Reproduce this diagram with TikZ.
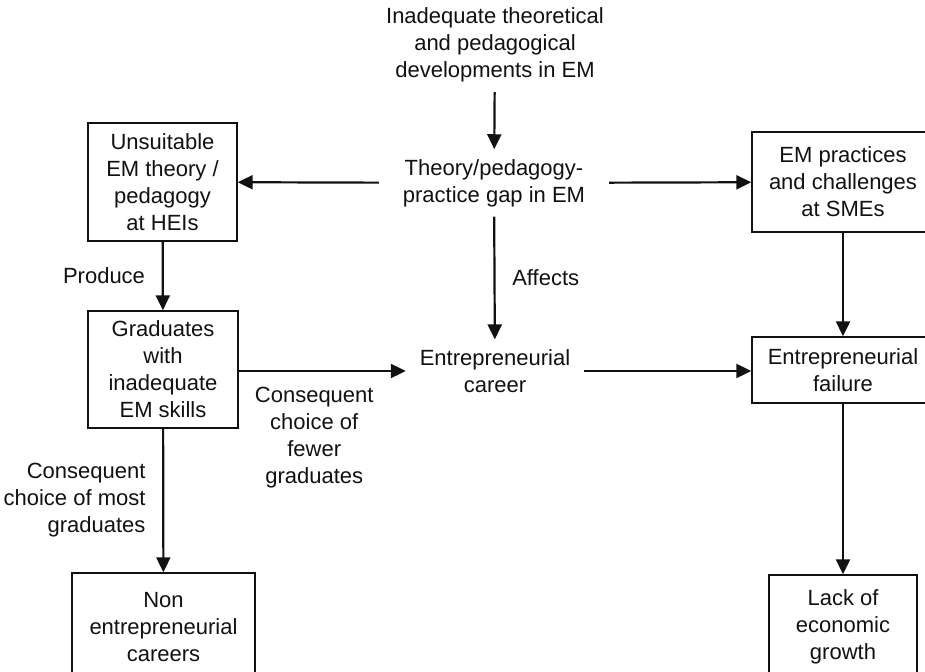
\documentclass[tikz,border=0pt]{standalone}
\usepackage{fontspec}
\setmainfont{Liberation Sans}
\usepackage{tikz}
\usetikzlibrary{arrows.meta, positioning, calc}
\definecolor{InkBlack}{HTML}{111111}

\begin{document}
\begin{tikzpicture}[x=0.5pt, y=-0.5pt,
                    every node/.style={font=\fontsize{11}{13.5}\selectfont, color=InkBlack, align=center},
                    box/.style={draw, line width=0.7pt, inner sep=0pt},
                    plain/.style={inner sep=0pt, outer sep=5pt},
                    arr/.style={-{Triangle[length=7.5pt, width=7pt]}, line width=1.1pt, color=InkBlack}]
                    \path[use as bounding box] (0,0) rectangle (925,672);
                    \clip (0,0) rectangle (925,672);
                    
                    % middle column
                    \node[plain] (dev) at (495, 45) {Inadequate theoretical\\and pedagogical\\developments in EM};
                    \node[plain, outer xsep=12pt] (gapEM) at (494, 183) {Theory/pedagogy-\\practice gap in EM};
                    \node[plain, outer xsep=7pt] (career) at (495, 371) {Entrepreneurial\\career};
                    
                    % left column
                    \node[box, minimum width=74.5pt, minimum height=59pt] (hei) at (162.5, 182) {Unsuitable\\EM theory /\\pedagogy\\at HEIs};
                    \node[box, minimum width=75pt, minimum height=58.5pt] (grad) at (163, 369.5) {Graduates\\with\\inadequate\\EM skills};
                    \node[box, minimum width=91.5pt, minimum height=54pt] (nonent) at (163.5, 627) {Non\\entrepreneurial\\careers};
                    
                    % right column
                    \node[box, minimum width=91pt, minimum height=50pt] (sme) at (843, 182) {EM practices\\and challenges\\at SMEs};
                    \node[box, minimum width=91pt, minimum height=33pt] (fail) at (843, 370) {Entrepreneurial\\failure};
                    \node[box, minimum width=74pt, minimum height=52pt] (growth) at (843, 627) {Lack of\\economic\\growth};
                    
                    \draw[arr] (dev) -- (gapEM);
                    \draw[arr] (gapEM) -- (hei);
                    \draw[arr] (gapEM) -- (sme);
                    \draw[arr] (gapEM) -- (career) node[midway, right=5pt]{Affects};
                    \draw[arr] (hei) -- (grad) node[midway, left=5pt]{Produce};
                    \draw[arr] (grad.east |- career) -- (career) node[midway, below=4pt, xshift=-4pt]{Consequent\\choice of\\fewer\\graduates};
                    \draw[arr] (grad) -- (nonent) node[midway, left=5pt, align=right]{Consequent\\choice of most\\graduates};
                    \draw[arr] (career) -- (fail.west |- career);
                    \draw[arr] (sme) -- (fail);
                    \draw[arr] (fail) -- (growth);
                \end{tikzpicture}
\end{document}
